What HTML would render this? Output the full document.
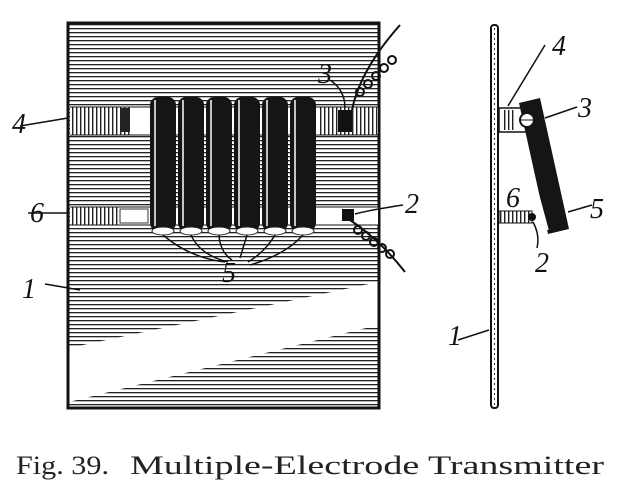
<!DOCTYPE html>
<html><head><meta charset="utf-8"><style>
html,body{margin:0;padding:0;background:#fff;width:618px;height:490px;overflow:hidden}
</style></head><body>
<svg width="618" height="490" viewBox="0 0 618 490" xmlns="http://www.w3.org/2000/svg">
<defs>
<pattern id="h" width="6" height="4" patternUnits="userSpaceOnUse"><rect width="6" height="1.3" fill="#222"/></pattern>
<pattern id="v" width="4" height="6" patternUnits="userSpaceOnUse"><rect width="1.4" height="6" fill="#222"/></pattern>
</defs>
<!-- main panel -->
<rect x="68" y="23" width="311" height="385" fill="url(#h)"/>
<polygon points="69,348 378,282 378,325 69,402" fill="#fff"/>
<rect x="68" y="23" width="311" height="385" fill="none" stroke="#111" stroke-width="3"/>
<!-- strips -->
<rect x="70" y="107" width="308" height="28" fill="#fff"/>
<rect x="70" y="107" width="60" height="28" fill="url(#v)"/>
<rect x="320" y="107" width="58" height="28" fill="url(#v)"/>
<rect x="120" y="108" width="10" height="24" fill="#222"/>
<rect x="338" y="110" width="14" height="22" fill="#111"/>
<rect x="70" y="207" width="308" height="18" fill="#fff"/>
<rect x="70" y="207" width="50" height="18" fill="url(#v)"/>
<rect x="120" y="209" width="28" height="14" fill="none" stroke="#333"/>
<rect x="342" y="209" width="12" height="12" fill="#111"/>
<line x1="70" y1="107" x2="378" y2="107" stroke="#111"/><line x1="70" y1="135" x2="378" y2="135" stroke="#111"/>
<line x1="70" y1="207" x2="378" y2="207" stroke="#111"/><line x1="70" y1="225" x2="378" y2="225" stroke="#111"/>
<!-- cylinders -->
<g fill="#151515">
<rect x="150" y="97" width="26" height="134" rx="8"/>
<rect x="178" y="97" width="26" height="134" rx="8"/>
<rect x="206" y="97" width="26" height="134" rx="8"/>
<rect x="234" y="97" width="26" height="134" rx="8"/>
<rect x="262" y="97" width="26" height="134" rx="8"/>
<rect x="290" y="97" width="26" height="134" rx="8"/>
</g>
<g fill="#fff" stroke="#222">
<ellipse cx="163" cy="231" rx="11" ry="4"/><ellipse cx="191" cy="231" rx="11" ry="4"/><ellipse cx="219" cy="231" rx="11" ry="4"/>
<ellipse cx="247" cy="231" rx="11" ry="4"/><ellipse cx="275" cy="231" rx="11" ry="4"/><ellipse cx="303" cy="231" rx="11" ry="4"/>
</g>
<g stroke="#fff" stroke-width="1.5"><line x1="155" y1="100" x2="155" y2="226"/><line x1="183" y1="100" x2="183" y2="226"/><line x1="211" y1="100" x2="211" y2="226"/><line x1="239" y1="100" x2="239" y2="226"/><line x1="267" y1="100" x2="267" y2="226"/><line x1="295" y1="100" x2="295" y2="226"/></g>
<!-- leader lines 5 -->
<g fill="none" stroke="#111" stroke-width="1.5">
<path d="M163,235 Q190,258 225,262"/><path d="M191,235 Q200,255 228,262"/><path d="M219,235 Q220,252 232,260"/>
<path d="M247,235 L240,258"/><path d="M275,235 Q265,252 248,262"/><path d="M303,235 Q285,255 250,265"/>
<path d="M352,110 Q360,70 400,25" stroke-width="2"/>
<path d="M350,220 Q380,240 405,272" stroke-width="2"/>
<path d="M20,126 L68,118"/><path d="M28,213 L68,213"/><path d="M330,80 Q345,90 345,108"/>
<path d="M403,205 Q370,210 355,214"/><path d="M45,284 L80,290"/>
</g>
<g fill="none" stroke="#111" stroke-width="2">
<circle cx="360" cy="92" r="4"/><circle cx="368" cy="84" r="4"/><circle cx="376" cy="76" r="4"/><circle cx="384" cy="68" r="4"/><circle cx="392" cy="60" r="4"/>
<circle cx="358" cy="230" r="4"/><circle cx="366" cy="236" r="4"/><circle cx="374" cy="242" r="4"/><circle cx="382" cy="248" r="4"/><circle cx="390" cy="254" r="4"/>
</g>
<!-- side view -->
<rect x="491" y="25" width="7" height="383" rx="3" fill="#fff" stroke="#111" stroke-width="2"/>
<line x1="494.5" y1="28" x2="494.5" y2="405" stroke="#333" stroke-dasharray="2,3"/>
<rect x="499" y="108" width="38" height="24" fill="#fff" stroke="#111" stroke-width="1.5"/>
<rect x="502" y="110" width="12" height="20" fill="url(#v)"/>
<polygon points="519,103 540,98 569,229 548,234" fill="#151515"/>
<line x1="522" y1="134" x2="548" y2="230" stroke="#fff" stroke-width="1.5"/>
<circle cx="527" cy="120" r="7" fill="#fff" stroke="#111" stroke-width="2"/>
<line x1="520" y1="120" x2="534" y2="120" stroke="#111"/>
<rect x="499" y="211" width="33" height="12" fill="url(#v)" stroke="#111"/>
<circle cx="532" cy="217" r="4" fill="#111"/>
<g fill="none" stroke="#111" stroke-width="1.5">
<path d="M545,45 L508,106"/><path d="M577,107 L545,118"/><path d="M592,205 L568,212"/><path d="M533,222 Q540,235 537,248"/><path d="M458,340 L489,330"/>
</g>
<!-- labels -->
<g font-family="Liberation Serif, serif" font-style="italic" font-size="28" fill="#111">
<text x="12" y="133">4</text><text x="318" y="83">3</text><text x="30" y="222">6</text>
<text x="405" y="213">2</text><text x="222" y="282">5</text><text x="22" y="298">1</text>
<text x="552" y="55">4</text><text x="578" y="117">3</text><text x="506" y="207">6</text>
<text x="590" y="218">5</text><text x="535" y="272">2</text><text x="448" y="345">1</text>
</g>
<g font-family="Liberation Serif, serif" font-size="26" fill="#222">
<text x="16" y="474" textLength="93" lengthAdjust="spacingAndGlyphs">Fig. 39.</text>
<text x="130" y="474" textLength="474" lengthAdjust="spacingAndGlyphs">Multiple-Electrode Transmitter</text>
</g>
</svg>
</body></html>
